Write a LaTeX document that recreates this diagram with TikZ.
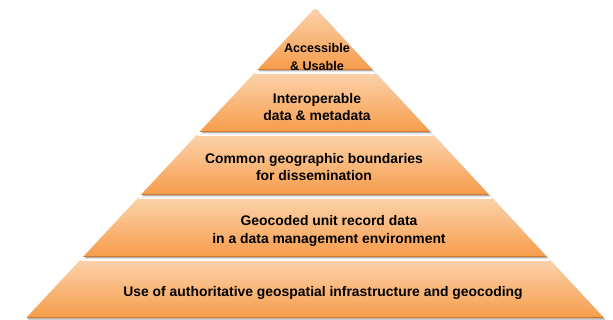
\documentclass[tikz,border=0pt]{standalone}
\usepackage{xcolor}
\usepackage{fontspec}
\setmainfont{Liberation Sans}
\usepackage{tikz}
\usetikzlibrary{calc}
\definecolor{peachtop}{RGB}{252,210,170}
\definecolor{peachbot}{RGB}{246,156,74}
\definecolor{rimdark}{RGB}{214,120,50}
\tikzset{
  layertext/.style={align=center, font=\bfseries\fontsize{13.9}{17.5}\selectfont, text=black, inner sep=0pt},
}
% left and right edge of the pyramid at height y
\newcommand{\lx}[1]{315-0.932*(#1-8)}
\newcommand{\rx}[1]{315+0.932*(#1-8)}

\begin{document}
\begin{tikzpicture}[x=1pt,y=-1pt]
\useasboundingbox (0,0) rectangle (613,320);

\foreach \t/\b in {8/70, 73/132, 135/195, 198/257, 260/318}{
    % shadow on the right side
    \fill[gray!60] ({\lx{\t}+1.5},{\t+1.5})--({\rx{\t}+1.5},{\t+1.5})--({\rx{\b}+1.5},{\b+1.5})--({\lx{\b}+1.5},{\b+1.5})--cycle;
    \shade[top color=peachtop, bottom color=peachbot] ({\lx{\t}},\t)--({\rx{\t}},\t)--({\rx{\b}},\b)--({\lx{\b}},\b)--cycle;
    \draw[white, line width=0.8pt] ({\lx{\t}+1},{\t+0.5})--({\rx{\t}-1},{\t+0.5});%highlight
    \draw[rimdark, line width=0.8pt] ({\lx{\b}+1},{\b-0.4})--({\rx{\b}-1},{\b-0.4});
}

\node[layertext, font=\bfseries\fontsize{12.6}{17.5}\selectfont] (acc) at (317,57) {Accessible\\\& Usable};
\node[layertext] (interop) at (317,107) {Interoperable\\data \& metadata};
\node[layertext] (bound) at (314,167) {Common geographic boundaries\\for dissemination};
\node[layertext] (geocod) at (329,231) {Geocoded unit record data\\in a data management environment};
\node[layertext] (infra) at (323,293) {Use of authoritative geospatial infrastructure and geocoding};
\end{tikzpicture}
\end{document}
